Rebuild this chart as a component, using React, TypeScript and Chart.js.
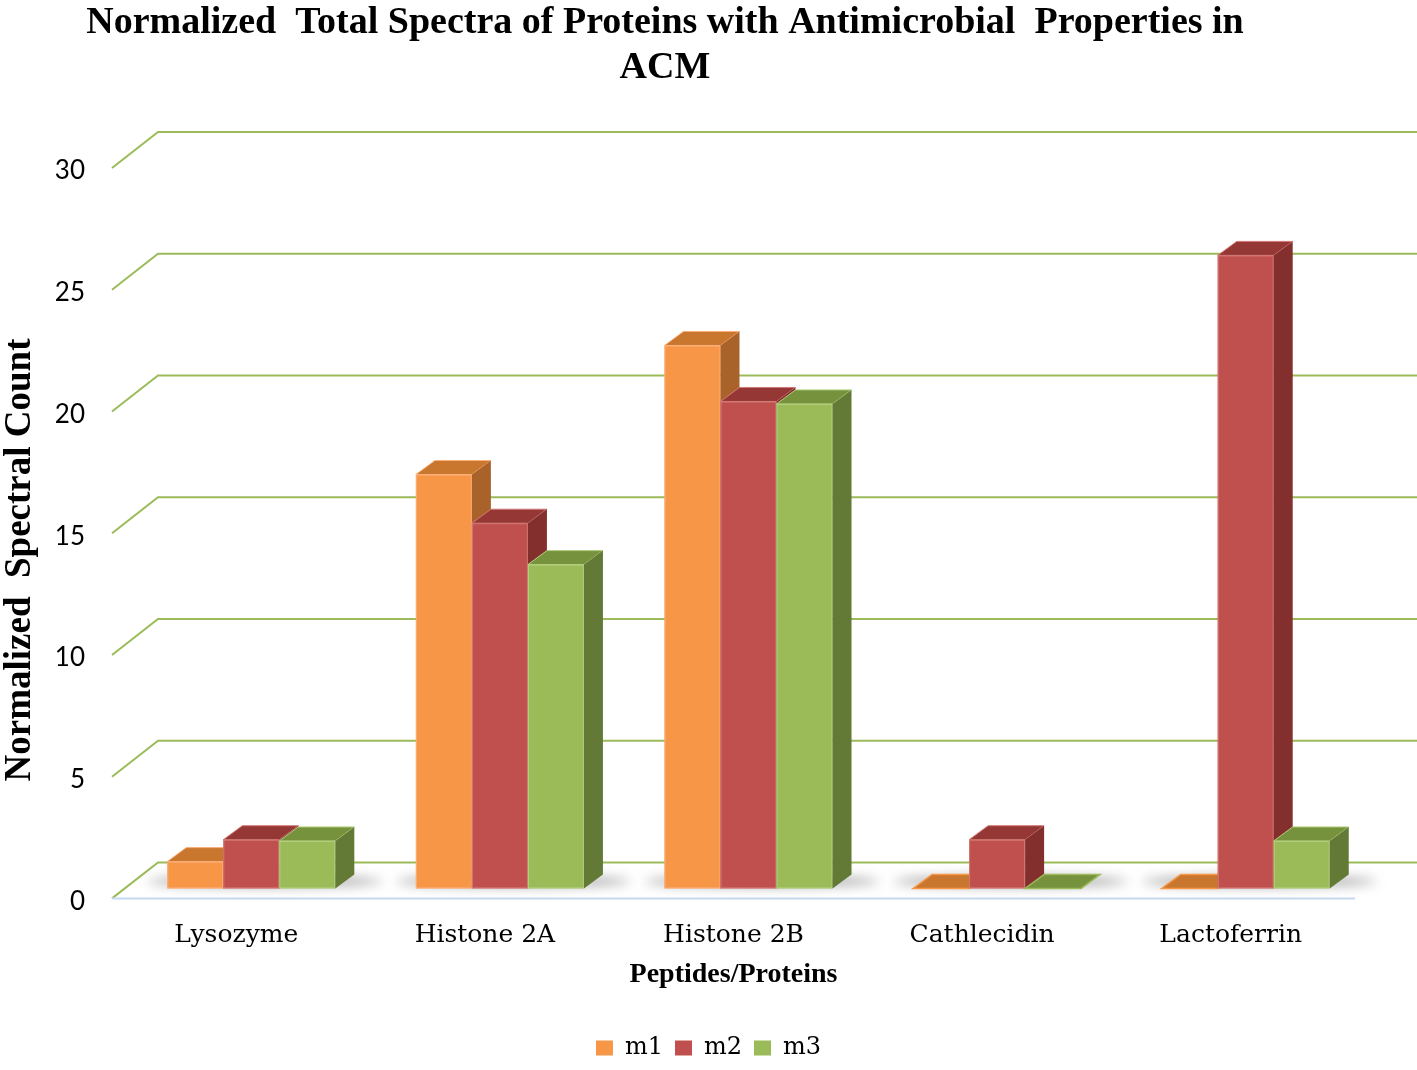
import React, { useEffect, useRef } from "react";
import { Chart, registerables } from "chart.js";

Chart.register(...registerables);

// ---- data ----
const categories = ["Lysozyme", "Histone 2A", "Histone 2B", "Cathlecidin", "Lactoferrin"];
const seriesNames = ["m1", "m2", "m3"];
const m1 = [1.1, 17.0, 22.3, 0, 0];
const m2 = [2.0, 15.0, 20.0, 2.0, 26.0];
const m3 = [1.95, 13.3, 19.9, 0, 1.95];
const yTicks = [0, 5, 10, 15, 20, 25, 30];
const titleLines = ["Normalized  Total Spectra of Proteins with Antimicrobial  Properties in", "ACM"];
const xAxisTitle = "Peptides/Proteins";
const yAxisTitle = "Normalized  Spectral Count";

// ---- styles ----
const frontColors = ["#f79646", "#c0504d", "#9bbb59"];
const edgeColors = ["#fbb07a", "#d47a77", "#b5d07e"];
const topColors = ["#c9772f", "#953735", "#76923c"];
const sideColors = ["#a8622a", "#832f2d", "#627a35"];
const GRID_COLOR = "#9bbb59";
const FLOOR_COLOR = "#c6d9f1";
const WALL_DX = 46;
const WALL_DY = -36;
const BAR_SX = 15;
const BAR_SY = -10;
const DEPTH_DX = 19;
const DEPTH_DY = -14;

const threeDPlugin = {
  id: "threeD",
  beforeDatasetsDraw(chart: any) {
    const { ctx, chartArea: a, scales } = chart;
    const y = scales.y;
    ctx.save();
    // back wall gridlines with perspective side
    ctx.strokeStyle = GRID_COLOR;
    ctx.lineWidth = 2;
    yTicks.forEach((v) => {
      const py = y.getPixelForValue(v);
      ctx.beginPath();
      ctx.moveTo(a.left, py);
      ctx.lineTo(a.left + WALL_DX, py + WALL_DY);
      ctx.lineTo(chart.width, py + WALL_DY);
      ctx.stroke();
    });
    // front floor edge
    const y0 = y.getPixelForValue(0);
    ctx.strokeStyle = FLOOR_COLOR;
    ctx.beginPath();
    ctx.moveTo(a.left, y0);
    ctx.lineTo(a.right, y0);
    ctx.stroke();

    const metas = chart.data.datasets.map((_: any, i: number) => chart.getDatasetMeta(i));
    categories.forEach((_, ci) => {
      const els = metas.map((m: any) => m.data[ci]);
      const first = els[0];
      const last = els[els.length - 1];
      const gl = first.x - first.width / 2 + BAR_SX;
      const gr = last.x + last.width / 2 + BAR_SX + DEPTH_DX;
      const bottom = first.base + BAR_SY;
      // soft floor shadow
      ctx.save();
      ctx.filter = "blur(6px)";
      ctx.fillStyle = "rgba(70,70,70,0.5)";
      ctx.beginPath();
      ctx.ellipse((gl + gr) / 2 + 4, bottom - 7, (gr - gl) / 2 + 24, 5, 0, 0, Math.PI * 2);
      ctx.fill();
      ctx.restore();

      els.forEach((el: any, di: number) => {
        const l = el.x - el.width / 2 + BAR_SX;
        const r = el.x + el.width / 2 + BAR_SX;
        const t = el.y + BAR_SY;
        const b = el.base + BAR_SY;
        const solid = b - t > 0.5;
        // front
        if (solid) {
          ctx.fillStyle = frontColors[di];
          ctx.fillRect(l, t, r - l, b - t);
          ctx.strokeStyle = edgeColors[di];
          ctx.lineWidth = 1;
          ctx.strokeRect(l + 0.5, t + 0.5, r - l - 1, b - t - 1);
        }
        // top
        ctx.fillStyle = topColors[di];
        ctx.beginPath();
        ctx.moveTo(l, t);
        ctx.lineTo(r, t);
        ctx.lineTo(r + DEPTH_DX, t + DEPTH_DY);
        ctx.lineTo(l + DEPTH_DX, t + DEPTH_DY);
        ctx.closePath();
        ctx.fill();
        ctx.strokeStyle = solid ? edgeColors[di] : frontColors[di];
        ctx.lineWidth = solid ? 1 : 1.5;
        ctx.stroke();
        // side
        if (solid) {
          ctx.fillStyle = sideColors[di];
          ctx.beginPath();
          ctx.moveTo(r, t);
          ctx.lineTo(r + DEPTH_DX, t + DEPTH_DY);
          ctx.lineTo(r + DEPTH_DX, b + DEPTH_DY);
          ctx.lineTo(r, b);
          ctx.closePath();
          ctx.fill();
        }
      });
    });
    ctx.restore();
    return false;
  },
  afterDraw(chart: any) {
    const { ctx } = chart;
    ctx.save();
    ctx.fillStyle = "#000";
    ctx.font = 'bold 38px "Liberation Serif"';
    ctx.textAlign = "center";
    ctx.textBaseline = "alphabetic";
    ctx.fillText(titleLines[0], 665, 33);
    ctx.fillText(titleLines[1], 665, 78);
    // vertical axis title
    ctx.translate(20, 560);
    ctx.rotate(-Math.PI / 2);
    ctx.font = 'bold 37px "Liberation Serif"';
    ctx.textBaseline = "middle";
    ctx.fillText(yAxisTitle, 0, 0);
    ctx.restore();
  },
};

export default function App() {
  const ref = useRef<HTMLCanvasElement | null>(null);
  useEffect(() => {
    document.body.style.margin = "0";
    document.body.style.overflow = "hidden";
    if (!ref.current) return;
    const seriesValues = [m1, m2, m3];
    const chart = new Chart(ref.current, {
      type: "bar",
      data: {
        labels: categories,
        datasets: seriesNames.map((name, i) => ({
          label: name,
          data: seriesValues[i],
          backgroundColor: frontColors[i],
          borderWidth: 0,
          categoryPercentage: 0.676,
          barPercentage: 1.0,
        })),
      },
      options: {
        animation: false,
        responsive: false,
        devicePixelRatio: 1,
        layout: { padding: { top: 168, bottom: 0, left: 0, right: 0 } },
        plugins: {
          title: { display: false },
          tooltip: { enabled: false },
          legend: {
            position: "bottom",
            labels: {
              color: "#000",
              font: { family: "DejaVu Serif", size: 24 },
              boxWidth: 17,
              boxHeight: 15,
              padding: 12,
            },
          },
        },
        scales: {
          x: {
            grid: { display: false, drawTicks: false },
            border: { display: false },
            afterFit: (s: any) => {
              s.height = s.height - 24;
            },
            ticks: {
              color: "#000",
              font: { family: "DejaVu Serif", size: 25 },
              padding: 22,
              maxRotation: 0,
            },
            title: {
              display: true,
              text: xAxisTitle,
              color: "#000",
              font: { family: "Liberation Serif", size: 28, weight: "bold" },
              padding: { top: 10, bottom: 32 },
            },
          },
          y: {
            min: 0,
            max: 30,
            afterFit: (s: any) => {
              s.width = 112;
            },
            afterBuildTicks: (s: any) => {
              s.ticks = yTicks.map((v) => ({ value: v }));
            },
            grid: { display: false, drawTicks: false },
            border: { display: false },
            ticks: {
              color: "#000",
              font: { family: "Lato", size: 26 },
              padding: 27,
              labelOffset: 3,
            },
            title: { display: false },
          },
          yr: {
            position: "right",
            display: true,
            afterFit: (s: any) => {
              s.width = 62;
            },
            grid: { display: false, drawTicks: false },
            border: { display: false },
            ticks: { display: false },
          },
        },
      },
      plugins: [threeDPlugin],
    } as any);
    return () => chart.destroy();
  }, []);
  return (
    <div style={{ width: 1417, height: 1070, background: "#fff" }}>
      <canvas ref={ref} width={1417} height={1070} />
    </div>
  );
}
